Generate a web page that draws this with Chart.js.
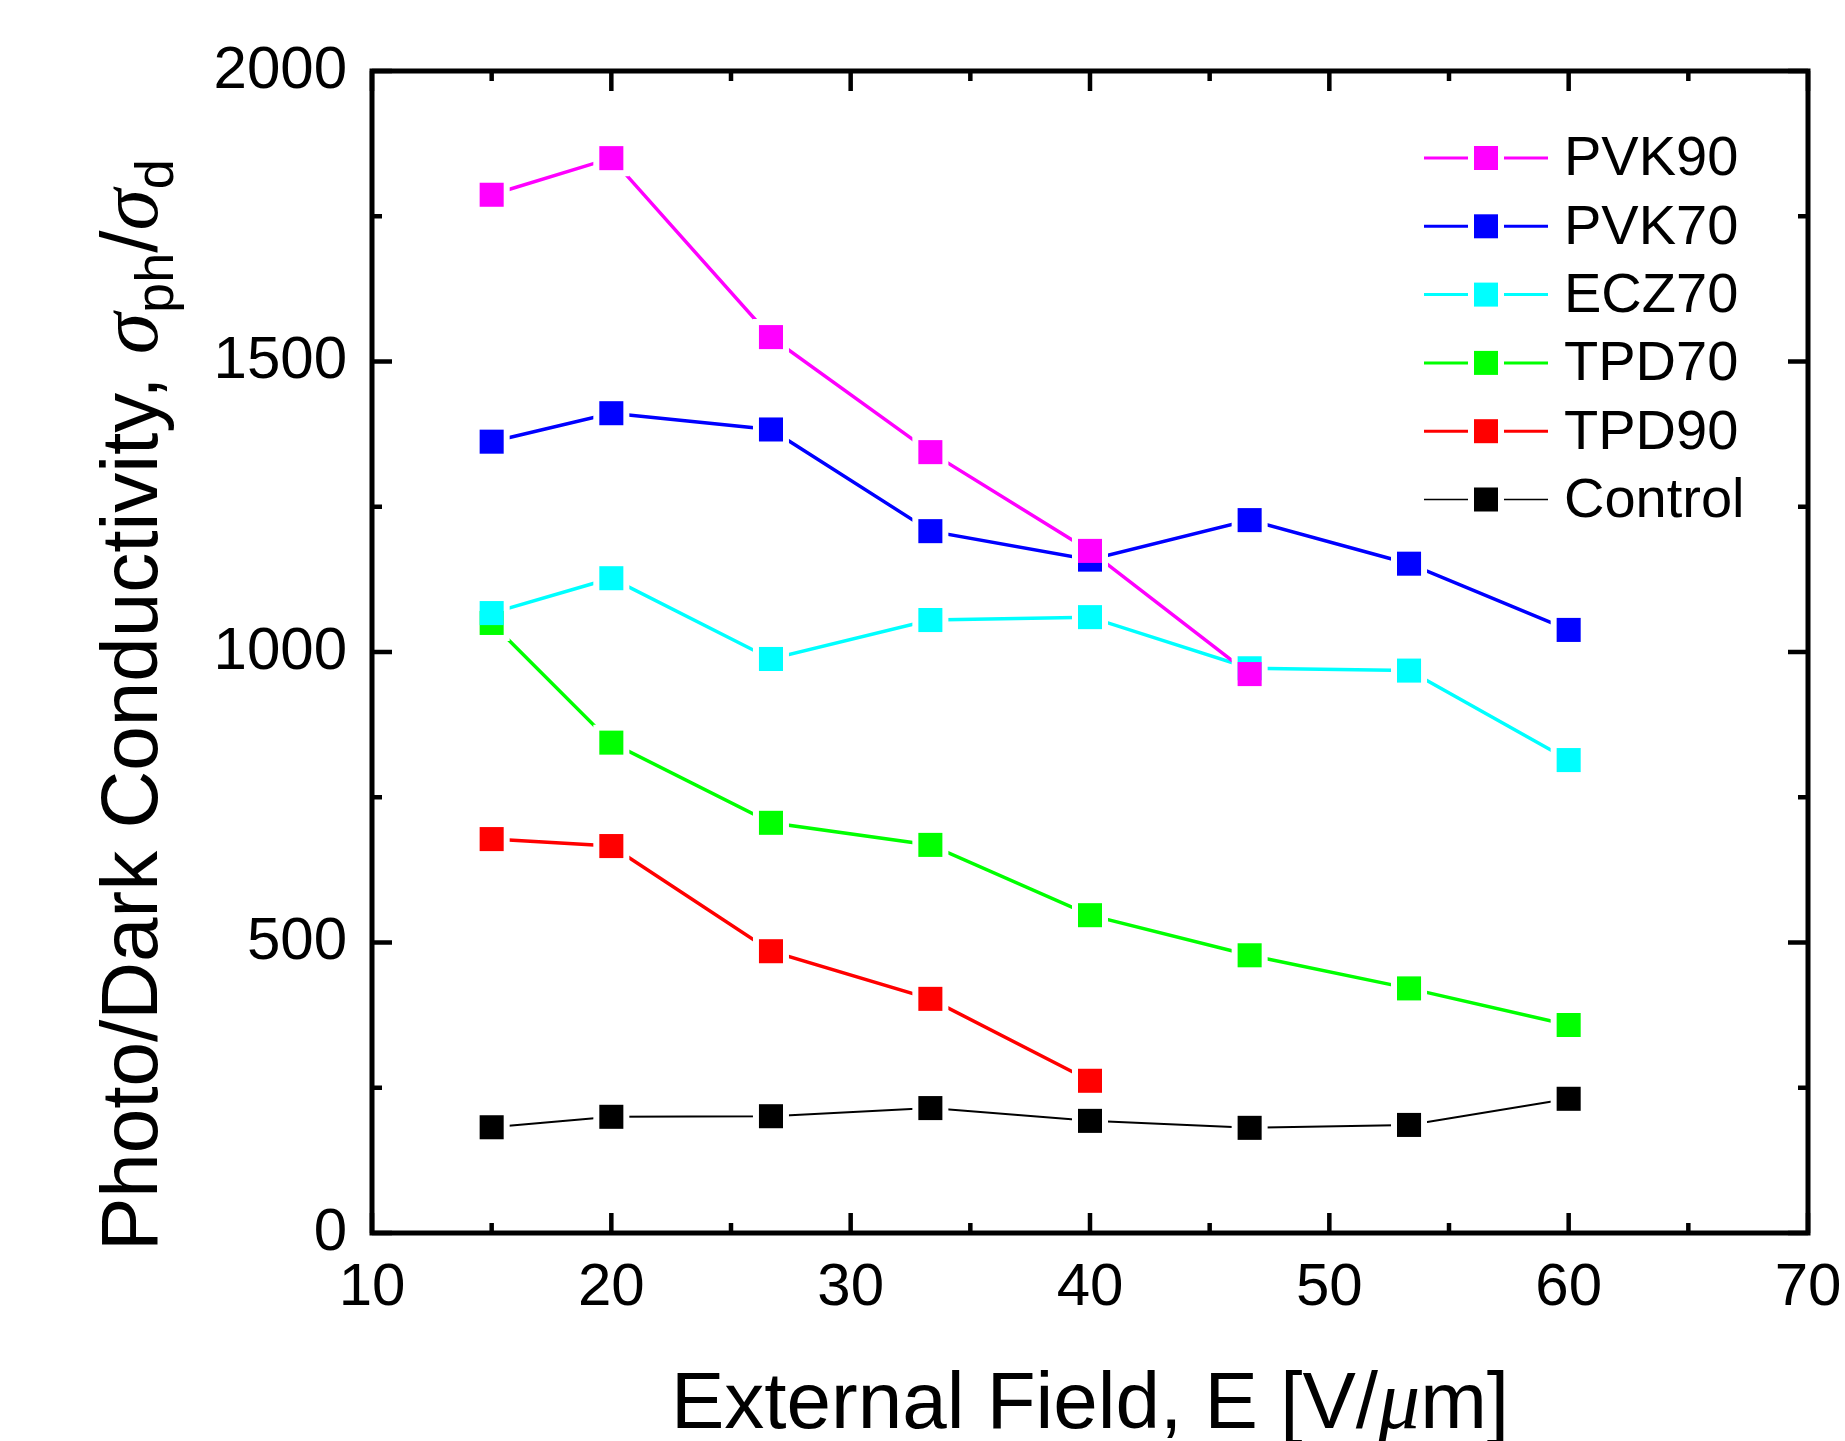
<!DOCTYPE html>
<html>
<head>
<meta charset="utf-8">
<script src="https://cdn.jsdelivr.net/npm/chart.js@4.4.1/dist/chart.umd.min.js"></script>
<style>
  html, body { margin: 0; padding: 0; background: #ffffff; }
  #c { display: block; }
</style>
</head>
<body>
<canvas id="c" width="1845" height="1441"></canvas>
<script>
// ---------------- data ----------------
const fieldValues = [15, 20, 26.67, 33.33, 40, 46.67, 53.33, 60];
const seriesNames = ['PVK90', 'PVK70', 'ECZ70', 'TPD70', 'TPD90', 'Control'];
const seriesColors = ['#FF00FF', '#0000FF', '#00FFFF', '#00FF00', '#FF0000', '#000000'];
const pvk90   = [1787, 1850, 1542, 1344, 1174, 962];
const pvk70   = [1362, 1411, 1383, 1208, 1159, 1227, 1152, 1038];
const ecz70   = [1067, 1127, 988, 1055, 1060, 972, 968, 814];
const tpd70   = [1050, 844, 706, 668, 547, 478, 421, 358];
const tpd90   = [678, 666, 485, 403, 262];
const control = [182, 200, 201, 215, 193, 181, 186, 231];
const seriesValues = [pvk90, pvk70, ecz70, tpd70, tpd90, control];
const xTickValues = [10, 20, 30, 40, 50, 60, 70];
const yTickValues = [0, 500, 1000, 1500, 2000];
const xMinorStep = 5;
const yMinorStep = 250;
const xTitleRuns = [['External Field, E [V/', 'n'], ['\u03BC', 'i'], ['m]', 'n']];
const yTitleRuns = [['Photo/Dark Conductivity, ', 'n'], ['\u03C3', 'i'], ['ph', 's'], ['/', 'n'], ['\u03C3', 'i'], ['d', 's']];

// ---------------- styling ----------------
const FONT = '"Liberation Sans", Arial, sans-serif';
const GREEK = '"Liberation Serif", "DejaVu Serif", serif';
const lineWidths = [3.5, 3.5, 3.5, 3.5, 3.5, 2];
const MARK_R = 17;      // rect point radius -> ~24px square
const GAP = 18;         // half-size of the gap box around each marker

const toPoints = vals => vals.map((v, i) => ({ x: fieldValues[i], y: v }));

const datasets = [];
seriesNames.forEach((name, i) => {
  // marker dataset
  datasets.push({
    label: name,
    data: toPoints(seriesValues[i]),
    showLine: false,
    pointStyle: 'rect',
    pointRadius: MARK_R,
    pointHoverRadius: MARK_R,
    pointBackgroundColor: seriesColors[i],
    pointBorderWidth: 0,
    borderColor: seriesColors[i],
    order: i
  });
  // connecting line dataset (gapped at markers)
  datasets.push({
    label: name + ' line',
    data: toPoints(seriesValues[i]),
    showLine: true,
    gapLine: true,
    borderColor: seriesColors[i],
    borderWidth: lineWidths[i],
    pointRadius: 0,
    pointHoverRadius: 0,
    tension: 0,
    order: 10 + i
  });
});

// clip out squares around markers for gapped lines
const gapPlugin = {
  id: 'gapPlugin',
  beforeDatasetDraw(chart, args) {
    const ds = chart.data.datasets[args.index];
    if (!ds.gapLine) return;
    const ctx = chart.ctx;
    ctx.save();
    ctx.beginPath();
    ctx.rect(0, 0, chart.width, chart.height);
    args.meta.data.forEach(el => {
      ctx.rect(el.x - GAP, el.y - GAP, GAP * 2, GAP * 2);
    });
    ctx.clip('evenodd');
  },
  afterDatasetDraw(chart, args) {
    const ds = chart.data.datasets[args.index];
    if (!ds.gapLine) return;
    chart.ctx.restore();
  }
};

// frame and inward ticks (major + minor), on all four sides
const framePlugin = {
  id: 'framePlugin',
  afterDatasetsDraw(chart) {
    const { ctx, chartArea: { left, right, top, bottom }, scales: { x, y } } = chart;
    ctx.save();
    ctx.strokeStyle = '#000';
    ctx.lineCap = 'butt';
    ctx.lineWidth = 4.5;
    const seg = (x1, y1, x2, y2) => { ctx.beginPath(); ctx.moveTo(x1, y1); ctx.lineTo(x2, y2); ctx.stroke(); };
    const xMin = xTickValues[0], xMax = xTickValues[xTickValues.length - 1];
    for (let v = xMin; v <= xMax + 1e-9; v += xMinorStep) {
      const px = x.getPixelForValue(v);
      const len = xTickValues.includes(v) ? 20 : 10;
      seg(px, bottom, px, bottom - len);
      seg(px, top, px, top + len);
    }
    const yMin = yTickValues[0], yMax = yTickValues[yTickValues.length - 1];
    for (let v = yMin; v <= yMax + 1e-9; v += yMinorStep) {
      const py = y.getPixelForValue(v);
      const len = yTickValues.includes(v) ? 20 : 10;
      seg(left, py, left + len, py);
      seg(right, py, right - len, py);
    }
    ctx.lineWidth = 5;
    ctx.lineJoin = 'miter';
    ctx.strokeRect(left, top, right - left, bottom - top);
    ctx.restore();
  }
};

// legend inside the plot: line - marker - line, label
const legendPlugin = {
  id: 'legendPlugin',
  afterDraw(chart) {
    const { ctx, chartArea: { right, top } } = chart;
    ctx.save();
    const x0 = right - 384;
    const mx = x0 + 62;
    const tx = x0 + 140;
    seriesNames.forEach((name, i) => {
      const yy = top + 87 + i * 68.3;
      ctx.strokeStyle = seriesColors[i];
      ctx.lineWidth = lineWidths[i] * 0.85;
      ctx.beginPath(); ctx.moveTo(x0, yy); ctx.lineTo(mx - 18, yy); ctx.stroke();
      ctx.beginPath(); ctx.moveTo(mx + 18, yy); ctx.lineTo(x0 + 124, yy); ctx.stroke();
      ctx.fillStyle = seriesColors[i];
      ctx.fillRect(mx - 12, yy - 12, 24, 24);
      ctx.fillStyle = '#000';
      ctx.font = '56px ' + FONT;
      ctx.textAlign = 'left';
      ctx.textBaseline = 'middle';
      ctx.fillText(name, tx, yy + 2);
    });
    ctx.restore();
  }
};

// axis titles with italic greek and subscripts
function runFont(kind) {
  if (kind === 'i') return 'italic 84px ' + GREEK;
  if (kind === 's') return '54px ' + FONT;
  return '80px ' + FONT;
}
function drawRuns(ctx, runs, x, y) {
  let cx = x;
  runs.forEach(([t, k]) => {
    ctx.font = runFont(k);
    const dy = k === 's' ? 16 : 0;
    ctx.fillText(t, cx, y + dy);
    cx += ctx.measureText(t).width;
  });
  return cx - x;
}
function runsWidth(ctx, runs) {
  let w = 0;
  runs.forEach(([t, k]) => { ctx.font = runFont(k); w += ctx.measureText(t).width; });
  return w;
}
const titlePlugin = {
  id: 'titlePlugin',
  afterDraw(chart) {
    const { ctx, chartArea: { left, right, bottom } } = chart;
    ctx.save();
    ctx.fillStyle = '#000';
    ctx.textAlign = 'left';
    ctx.textBaseline = 'alphabetic';
    // x title
    const w = runsWidth(ctx, xTitleRuns);
    drawRuns(ctx, xTitleRuns, (left + right) / 2 - w / 2, 1428);
    // y title
    ctx.translate(157, bottom + 18);
    ctx.rotate(-Math.PI / 2);
    drawRuns(ctx, yTitleRuns, 0, 0);
    ctx.restore();
  }
};

new Chart(document.getElementById('c'), {
  type: 'scatter',
  data: { datasets },
  options: {
    responsive: false,
    animation: false,
    devicePixelRatio: 1,
    layout: { padding: { top: 71, right: 37, left: 0, bottom: 0 } },
    plugins: {
      legend: { display: false },
      tooltip: { enabled: false },
      title: { display: false }
    },
    scales: {
      x: {
        type: 'linear',
        min: xTickValues[0],
        max: xTickValues[xTickValues.length - 1],
        afterBuildTicks(scale) { scale.ticks = xTickValues.map(v => ({ value: v })); },
        afterFit(scale) { scale.height = 208; scale.paddingLeft = 0; scale.paddingRight = 0; },
        grid: { display: false, drawTicks: false },
        border: { display: false },
        ticks: {
          color: '#000',
          padding: 19,
          maxRotation: 0,
          callback: v => String(v),
          font: { family: FONT, size: 60 }
        }
      },
      y: {
        type: 'linear',
        min: yTickValues[0],
        max: yTickValues[yTickValues.length - 1],
        afterBuildTicks(scale) { scale.ticks = yTickValues.map(v => ({ value: v })); },
        afterFit(scale) { scale.width = 372; scale.paddingTop = 0; scale.paddingBottom = 0; },
        grid: { display: false, drawTicks: false },
        border: { display: false },
        ticks: {
          color: '#000',
          padding: 25,
          callback: v => String(v),
          font: { family: FONT, size: 60 }
        }
      }
    }
  },
  plugins: [gapPlugin, framePlugin, legendPlugin, titlePlugin]
});
</script>
</body>
</html>
